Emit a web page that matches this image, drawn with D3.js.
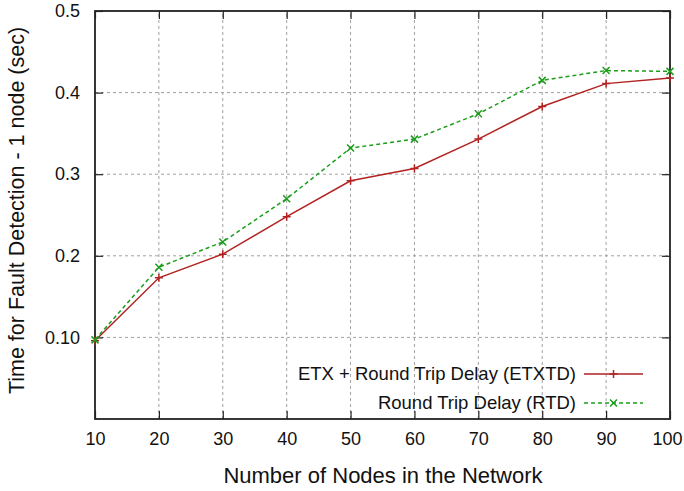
<!DOCTYPE html>
<html>
<head>
<meta charset="utf-8">
<script src="https://cdn.jsdelivr.net/npm/d3@7"></script>
<style>
  html, body { margin: 0; padding: 0; background: #fff; }
  svg { display: block; font-family: "Liberation Sans", Arial, sans-serif; }
</style>
</head>
<body>
<svg id="chart" width="684" height="491"></svg>
<script>
// Network size (number of nodes)
const nodes = [10, 20, 30, 40, 50, 60, 70, 80, 90, 100];
// Fault detection time for 1 node, seconds
const etxtd = [0.096, 0.173, 0.202, 0.248, 0.292, 0.307, 0.343, 0.383, 0.411, 0.418];
const rtd   = [0.097, 0.186, 0.217, 0.270, 0.332, 0.343, 0.374, 0.415, 0.427, 0.426];
const yTicks = [0.1, 0.2, 0.3, 0.4, 0.5];
const yTickLabels = ["0.10", "0.2", "0.3", "0.4", "0.5"];
const seriesNames = ["ETX + Round Trip Delay (ETXTD)", "Round Trip Delay (RTD)"];

const svg = d3.select("#chart");
const m = { left: 95, right: 670, top: 11, bottom: 419 };

const x = d3.scaleLinear().domain([10, 100]).range([m.left, m.right]);
const y = d3.scaleLinear().domain([0, 0.5]).range([m.bottom, m.top]);

// grid
const grid = svg.append("g").attr("stroke", "#a0a0a0").attr("stroke-width", 1)
  .attr("stroke-dasharray", "3,3");
nodes.slice(1, -1).forEach(v => {
  grid.append("line").attr("x1", x(v)).attr("x2", x(v)).attr("y1", m.bottom).attr("y2", m.top);
});
yTicks.slice(0, -1).forEach(v => {
  grid.append("line").attr("x1", m.left).attr("x2", m.right).attr("y1", y(v)).attr("y2", y(v));
});

// axes with inward ticks, mirrored on the opposite side
const tickLen = 8;
const fmtY = d => yTickLabels[yTicks.indexOf(d)];
const xAxis = svg.append("g").attr("transform", `translate(0,${m.bottom})`)
  .call(d3.axisBottom(x).tickValues(nodes).tickSizeInner(-tickLen).tickSizeOuter(0).tickPadding(13))
  .call(g => g.select(".domain").remove());
// keep the last label inside the canvas
xAxis.selectAll(".tick").filter(d => d === nodes[nodes.length - 1]).select("text").attr("dx", -3);
svg.append("g").attr("transform", `translate(0,${m.top})`)
  .call(d3.axisTop(x).tickValues(nodes).tickSizeInner(-tickLen).tickSizeOuter(0).tickFormat(""))
  .call(g => g.select(".domain").remove());
svg.append("g").attr("transform", `translate(${m.left},0)`)
  .call(d3.axisLeft(y).tickValues(yTicks).tickFormat(fmtY).tickSizeInner(-tickLen).tickSizeOuter(0).tickPadding(15))
  .call(g => g.select(".domain").remove());
svg.append("g").attr("transform", `translate(${m.right},0)`)
  .call(d3.axisRight(y).tickValues(yTicks).tickSizeInner(-tickLen).tickSizeOuter(0).tickFormat(""))
  .call(g => g.select(".domain").remove());
svg.selectAll(".tick line").attr("stroke", "#222").attr("stroke-width", 1.2);
svg.selectAll(".tick text").attr("font-size", 18).attr("fill", "#111")
  .attr("font-family", "Liberation Sans, Arial, sans-serif");

// frame
svg.append("rect").attr("x", m.left).attr("y", m.top)
  .attr("width", m.right - m.left).attr("height", m.bottom - m.top)
  .attr("fill", "none").attr("stroke", "#222").attr("stroke-width", 1.8);

// series
const series = [
  { name: seriesNames[0], values: etxtd, color: "#b22222", dash: null, marker: "plus" },
  { name: seriesNames[1], values: rtd, color: "#1a9e1a", dash: "4,3", marker: "cross" }
];
const line = d3.line().x((d, i) => x(nodes[i])).y(d => y(d));
const markerPath = (type, cx, cy, r) => type === "plus"
  ? `M${cx - r},${cy}H${cx + r}M${cx},${cy - r}V${cy + r}`
  : `M${cx - r},${cy - r}L${cx + r},${cy + r}M${cx - r},${cy + r}L${cx + r},${cy - r}`;

series.forEach(s => {
  svg.append("path").datum(s.values).attr("d", line)
    .attr("fill", "none").attr("stroke", s.color).attr("stroke-width", 1.5)
    .attr("stroke-dasharray", s.dash);
  svg.append("g").selectAll("path").data(s.values).join("path")
    .attr("d", (d, i) => markerPath(s.marker, x(nodes[i]), y(d), s.marker === "plus" ? 4 : 3.5))
    .attr("stroke", s.color).attr("stroke-width", 1.5).attr("fill", "none");
});

// legend
const legY = [374, 403];
series.forEach((s, i) => {
  const g = svg.append("g");
  g.append("text").attr("x", 576).attr("y", legY[i]).attr("dy", "0.35em")
    .attr("text-anchor", "end").attr("font-size", 18.5).attr("fill", "#111").text(s.name);
  g.append("line").attr("x1", 584).attr("x2", 643).attr("y1", legY[i]).attr("y2", legY[i])
    .attr("stroke", s.color).attr("stroke-width", 1.5).attr("stroke-dasharray", s.dash);
  g.append("path").attr("d", markerPath(s.marker, 613.5, legY[i], s.marker === "plus" ? 4 : 3.5))
    .attr("stroke", s.color).attr("stroke-width", 1.5).attr("fill", "none");
});

// axis titles
svg.append("text").attr("x", 383).attr("y", 483).attr("text-anchor", "middle")
  .attr("font-size", 22).attr("fill", "#111").text("Number of Nodes in the Network");
svg.append("text").attr("transform", "translate(24,210.5) rotate(-90)").attr("text-anchor", "middle")
  .attr("font-size", 21.5).attr("fill", "#111").text("Time for Fault Detection - 1 node (sec)");
</script>
</body>
</html>
